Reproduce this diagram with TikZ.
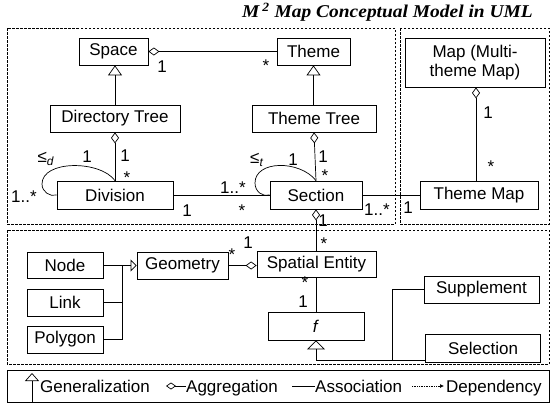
\documentclass[tikz,border=0pt]{standalone}
\usepackage{fontspec}
\setmainfont{Liberation Sans}
\newfontfamily\titlefont[FakeStretch=1.08]{Liberation Serif}
\usetikzlibrary{arrows.meta,calc}
\begin{document}
\begin{tikzpicture}[x=1pt,y=-1pt,
  font=\fontsize{17}{19}\selectfont,
  box/.style={draw, line width=0.8pt, inner sep=0pt, minimum height=27pt},
  lbl/.style={inner sep=0pt},
  conn/.style={line width=0.7pt},
  agg/.style={conn, {Diamond[open,length=11pt,width=8pt]}-},
  gen/.style={conn, -{Triangle[open,length=10pt,width=14pt]}},
  frame/.style={dash pattern=on 2.5pt off 1.5pt, line width=0.6pt}]
\useasboundingbox (0,0) rectangle (552,405);

% title
\node[lbl, anchor=east, font=\titlefont\bfseries\itshape\fontsize{18}{20}\selectfont] (title) at (533,12) {M\,\textsuperscript{2} Map Conceptual Model in UML};

% frames
\draw[frame] (7,28) rectangle (395,224);
\draw[frame] (400,28) rectangle (549,224);
\draw[frame] (7,230) rectangle (549,364);

% classes
\node[box, minimum width=69pt] (space) at (113.5,51.5) {Space};
\node[box, minimum width=73pt] (theme) at (313.5,51.5) {Theme};
\node[box, minimum width=130pt] (dirtree) at (115,118.5) {Directory Tree};
\node[box, minimum width=124pt] (themetree) at (314,118.5) {Theme Tree};
\node[box, minimum width=116pt, minimum height=28pt] (division) at (115,195) {Division};
\node[box, minimum width=92pt, minimum height=28pt] (section) at (316,195) {Section};
\node[box, minimum width=140pt, minimum height=49pt, align=center] (map) at (475,62.5) {Map (Multi-\\theme Map)};
\node[box, minimum width=118pt, minimum height=28pt] (thememap) at (479,195) {Theme Map};
\node[box, minimum width=119pt, minimum height=26pt] (spatial) at (316.5,264) {Spatial Entity};
\node[box, minimum width=91pt] (geometry) at (182.5,265.5) {Geometry};
\node[box, minimum width=76pt, minimum height=26pt] (nd) at (65,265.5) {Node};
\node[box, minimum width=76pt] (link) at (65,302.5) {Link};
\node[box, minimum width=76pt] (polygon) at (65,339.5) {Polygon};
\node[box, minimum width=96pt, minimum height=28pt] (f) at (316,326) {\textit{f}};
\node[box, minimum width=115pt] (supplement) at (481.5,289.5) {Supplement};
\node[box, minimum width=115pt, minimum height=28pt] (selection) at (483,348) {Selection};

% connectors
\draw[agg] (space.east) -- (theme.west);
\draw[gen] (dirtree.north) -- (dirtree.north |- space.south);
\draw[gen] (themetree.north -| theme.south) -- (theme.south);
\draw[agg] (dirtree.south) -- (division.north);
\draw[agg] (themetree.south) -- (section.north);
\draw[conn] (division.east) -- (section.west);
\draw[conn] (section.east) -- (thememap.west);
\draw[agg] ([xshift=1pt]map.south) -- ([xshift=1pt]map.south |- thememap.north);
\draw[agg] (section.south) -- (section.south |- spatial.north);
\draw[conn, -{Diamond[open,length=11pt,width=8pt]}] (geometry.east) -- (geometry.east -| spatial.west);
\draw[conn] (section.south |- spatial.south) -- (f.north);

% self loops
\draw[conn] (division.north) .. controls (100,160) and (42,160) .. (42,184)
  .. controls (42,192) and (50,197) .. (division.west);
\draw[conn] (section.north) .. controls (300,160) and (255,160) .. (255,183)
  .. controls (255,192) and (263,197) .. (section.west);

% generalization of node/link/polygon
\coordinate (bj) at (122,265.5);
\draw[conn, -{Triangle[open,length=6pt,width=12pt]}] (nd.east) -- (nd.east -| geometry.west);
\draw[conn] (link.east) -- (link.east -| bj);
\draw[conn] (polygon.east) -| (bj);

% generalization of supplement/selection
\coordinate (gj) at (316,360);
\draw[conn, -{Triangle[open,length=9pt,width=18pt]}] (selection.west |- gj) -- (gj) -- (f.south);
\coordinate (sj) at (392,360);
\draw[conn] (supplement.west) -| (sj);

% multiplicities
\node[lbl] (m1) at (162,67) {1};
\node[lbl] (m2) at (266,66) {*};
\node[lbl] (m3) at (125,156) {1};
\node[lbl] (m4) at (127,178) {*};
\node[lbl] (m5) at (46,159) {≤\textsubscript{\textit{d}}};
\node[lbl] (m6) at (87,157) {1};
\node[lbl] (m7) at (24,197) {1..*};
\node[lbl] (m8) at (187,211) {1};
\node[lbl] (m9) at (242,211) {*};
\node[lbl] (m10) at (233,188) {1..*};
\node[lbl] (m11) at (257,160) {≤\textsubscript{\textit{t}}};
\node[lbl] (m12) at (293,160) {1};
\node[lbl] (m13) at (323,157) {1};
\node[lbl] (m14) at (325,176) {*};
\node[lbl] (m15) at (377,210) {1..*};
\node[lbl] (m16) at (408,208) {1};
\node[lbl] (m17) at (488,113) {1};
\node[lbl] (m18) at (491,167) {*};
\node[lbl] (m19) at (323,221) {1};
\node[lbl] (m20) at (324,244) {*};
\node[lbl] (m21) at (232,255) {*};
\node[lbl] (m22) at (248,243) {1};
\node[lbl] (m23) at (305,283) {*};
\node[lbl] (m24) at (303,302) {1};

% legend
\node[draw, line width=0.8pt, inner sep=0pt, minimum width=542pt, minimum height=32pt] (legend) at (278,386) {};
\draw[conn, -{Triangle[open,length=8pt,width=14pt]}] (legend.south -| 32,0) -- (32,373);
\node[lbl, anchor=base west] (lg1) at (40,392) {Generalization};
\draw[conn, {Diamond[open,length=10pt,width=7pt]}-] (166,386) -- (186,386);
\node[lbl, anchor=base west] (lg2) at (186,392) {Aggregation};
\draw[conn] (292,386) -- (315,386);
\node[lbl, anchor=base west] (lg3) at (315,392) {Association};
\draw[conn, densely dotted, -{Latex[length=4pt,width=4pt]}] (412,386) -- (444,386);
\node[lbl, anchor=base west] (lg4) at (446,392) {Dependency};
\end{tikzpicture}
\end{document}
